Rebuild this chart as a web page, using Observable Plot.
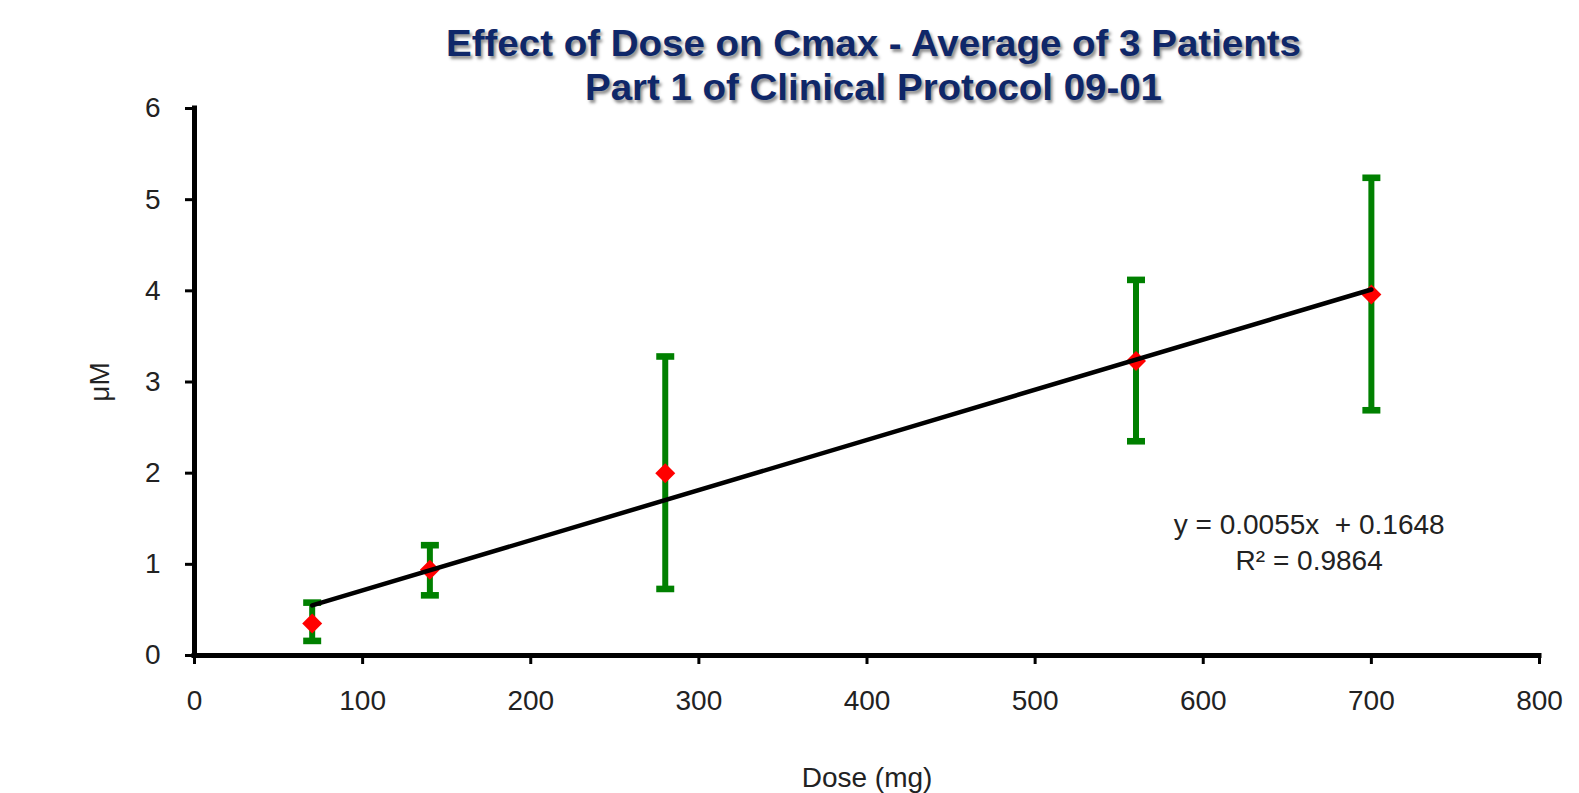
<!DOCTYPE html>
<html>
<head>
<meta charset="utf-8">
<script src="https://cdn.jsdelivr.net/npm/d3@7"></script>
<script src="https://cdn.jsdelivr.net/npm/@observablehq/plot@0.6"></script>
<style>
  html, body { margin: 0; padding: 0; background: #fff; }
  #wrap { position: relative; width: 1579px; height: 793px; overflow: hidden; }
  #title { position: absolute; left: 0; top: 0; width: 1579px; height: 110px; z-index: 2; pointer-events: none; }
  #title div {
    position: absolute; left: 0; top: 0;
    white-space: nowrap; font-family: "Liberation Sans", Arial, sans-serif;
    font-weight: bold; font-size: 36px; color: #0f2769;
    text-shadow: 2px 3px 3px rgba(0,0,0,0.45);
    line-height: 1; transform-origin: 0 0;
  }
  #chart { position: absolute; left: 0; top: 80px; z-index: 1; }
  #chart svg { background: transparent !important; overflow: visible; }
</style>
</head>
<body>
<div id="wrap">
  <div id="title">
    <div id="t1">Effect of Dose on Cmax - Average of 3 Patients</div>
    <div id="t2">Part 1 of Clinical Protocol 09-01</div>
  </div>
  <div id="chart"></div>
</div>
<script>
// Data
const doses = [70, 140, 280, 560, 700];
const means = [0.35, 0.94, 2.0, 3.23, 3.96];
const upper = [0.58, 1.21, 3.28, 4.12, 5.24];
const lower = [0.16, 0.66, 0.73, 2.35, 2.69];
const xTicks = [0, 100, 200, 300, 400, 500, 600, 700, 800];
const yTicks = [0, 1, 2, 3, 4, 5, 6];
const trendSlope = 0.0055;
const trendIntercept = 0.1648;
const trendX = [70, 700];
const equationLines = ["y = 0.0055x  + 0.1648", "R² = 0.9864"];

const points = doses.map((d, i) => ({dose: d, mean: means[i], lo: lower[i], hi: upper[i]}));
const trend = trendX.map(x => ({dose: x, y: trendSlope * x + trendIntercept}));
const caps = points.flatMap(p => [{dose: p.dose, v: p.hi}, {dose: p.dose, v: p.lo}]);

// horizontal cap symbol for the error bars
const capSymbol = {
  draw(context, size) {
    const w = 9, h = 3.3;
    context.moveTo(-w, -h);
    context.lineTo(w, -h);
    context.lineTo(w, h);
    context.lineTo(-w, h);
    context.closePath();
  }
};

const font = "'Liberation Sans', Arial, sans-serif";

const chart = Plot.plot({
  width: 1579,
  height: 713,
  marginLeft: 194,
  marginRight: 40,
  marginTop: 28,
  marginBottom: 138,
  style: {fontFamily: font, fontSize: "28px", color: "#222", background: "transparent"},
  x: {domain: [0, 800]},
  y: {domain: [0, 6]},
  marks: [
    Plot.axisX({ticks: xTicks, tickFormat: d => String(d), tickSize: 9, tickPadding: 26, strokeWidth: 3, stroke: "#000",
      label: null, fill: "#222", letterSpacing: "1.5px"}),
    Plot.axisY({ticks: yTicks, tickFormat: d => String(d), tickSize: 9, tickPadding: 25, strokeWidth: 3, stroke: "#000",
      label: null, fill: "#222", letterSpacing: "1.5px"}),
    Plot.axisX({ticks: [], label: "Dose (mg)", labelAnchor: "center", labelArrow: "none", labelOffset: 131, dx: -10, fill: "#222", letterSpacing: "2.8px"}),
    Plot.axisY({ticks: [], label: "μM", labelAnchor: "center", labelArrow: "none", labelOffset: 105, fill: "#222", letterSpacing: "2px"}),
    Plot.ruleY([0], {stroke: "#000", strokeWidth: 5, strokeLinecap: "square"}),
    Plot.ruleX([0], {y1: 0, y2: 6, stroke: "#000", strokeWidth: 5, strokeLinecap: "square"}),
    Plot.ruleX(points, {x: "dose", y1: "lo", y2: "hi", stroke: "#008000", strokeWidth: 6}),
    Plot.dot(caps, {x: "dose", y: "v", symbol: capSymbol, fill: "#008000", stroke: "none", r: 5}),
    Plot.dot(points, {x: "dose", y: "mean", symbol: "diamond2", r: 9, fill: "#ff0000", stroke: "none"}),
    Plot.line(trend, {x: "dose", y: "y", stroke: "#000", strokeWidth: 4.5}),
    Plot.text([equationLines[0]], {x: 663, y: 1.43, text: d => d, fontSize: 28, fill: "#222", letterSpacing: "1.2px"}),
    Plot.text([equationLines[1]], {x: 663, y: 1.04, text: d => d, fontSize: 28, fill: "#222", letterSpacing: "1.2px"})
  ]
});
document.getElementById("chart").appendChild(chart);

// Fit the title lines to the widths and centres seen in the reference
function fitTitle(id, centerX, capCenterY, targetWidth) {
  const el = document.getElementById(id);
  const w = el.getBoundingClientRect().width;
  const s = targetWidth / w;
  el.style.left = (centerX - targetWidth / 2) + "px";
  el.style.top = (capCenterY - 17.5) + "px";
  el.style.transform = `scaleX(${s})`;
}
fitTitle("t1", 873, 43.5, 855);
fitTitle("t2", 873, 87.5, 577);
</script>
</body>
</html>
